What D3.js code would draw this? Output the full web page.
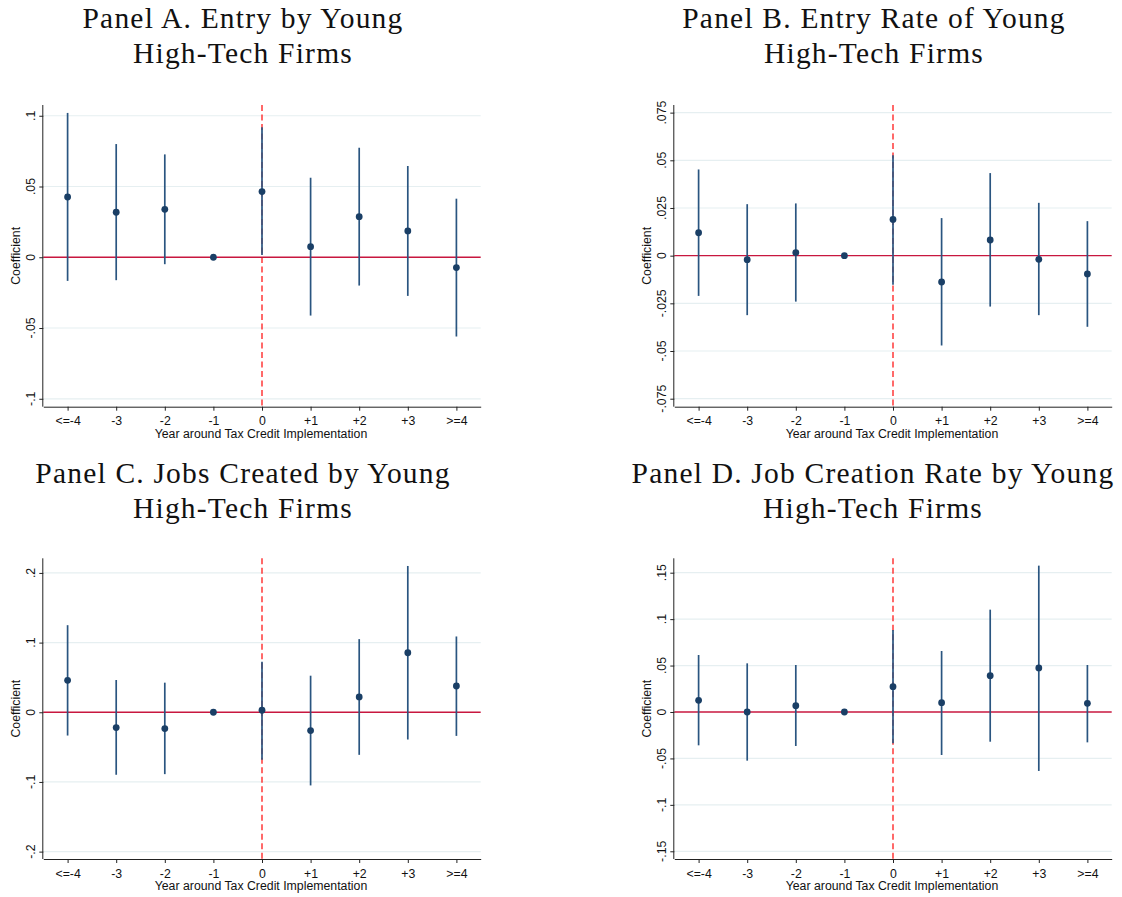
<!DOCTYPE html>
<html>
<head>
<meta charset="utf-8">
<script src="https://cdn.jsdelivr.net/npm/d3@7"></script>
<style>
  html, body { margin: 0; padding: 0; background: #ffffff; }
  svg { display: block; }
  .tick-label, .axis-title { font-family: "Liberation Sans", Arial, sans-serif; font-size: 12.3px; fill: #111; }
  .panel-title { font-family: "Liberation Serif", "Times New Roman", serif; font-size: 29.5px; fill: #111; letter-spacing: 1.2px; }
</style>
</head>
<body>
<svg id="chart" width="1122" height="897"></svg>
<script>
// Event-study categories (years around tax credit implementation)
const categories = ["<=-4", "-3", "-2", "-1", "0", "+1", "+2", "+3", ">=4"];

// Panel A: entry by young high-tech firms
const entryCoef = [0.0426, 0.0318, 0.0339, 0, 0.0464, 0.0075, 0.0287, 0.0186, -0.0073];
const entryLo   = [-0.0167, -0.0162, -0.0049, null, 0.0016, -0.0412, -0.0200, -0.0273, -0.0560];
const entryHi   = [0.1020, 0.0800, 0.0727, null, 0.0918, 0.0562, 0.0774, 0.0645, 0.0414];
const entryTicks = [-0.1, -0.05, 0, 0.05, 0.1];

// Panel B: entry rate of young high-tech firms
const entryRateCoef = [0.0120, -0.0021, 0.0016, 0, 0.0190, -0.0138, 0.0082, -0.0019, -0.0096];
const entryRateLo   = [-0.0211, -0.0312, -0.0241, null, -0.0153, -0.0471, -0.0267, -0.0312, -0.0373];
const entryRateHi   = [0.0452, 0.0270, 0.0274, null, 0.0527, 0.0197, 0.0433, 0.0277, 0.0181];
const entryRateTicks = [-0.075, -0.05, -0.025, 0, 0.025, 0.05, 0.075];

// Panel C: jobs created by young high-tech firms
const jobsCoef = [0.0458, -0.0220, -0.0234, 0, 0.0029, -0.0262, 0.0220, 0.0854, 0.0377];
const jobsLo   = [-0.0334, -0.0897, -0.0888, null, -0.0683, -0.1050, -0.0611, -0.0391, -0.0339];
const jobsHi   = [0.1250, 0.0463, 0.0425, null, 0.0725, 0.0525, 0.1050, 0.2100, 0.1088];
const jobsTicks = [-0.2, -0.1, 0, 0.1, 0.2];

// Panel D: job creation rate by young high-tech firms
const jobRateCoef = [0.0126, 0.0000, 0.0068, 0, 0.0273, 0.0100, 0.0391, 0.0474, 0.0093];
const jobRateLo   = [-0.0359, -0.0524, -0.0366, null, -0.0337, -0.0463, -0.0320, -0.0635, -0.0327];
const jobRateHi   = [0.0614, 0.0524, 0.0506, null, 0.0883, 0.0657, 0.1102, 0.1576, 0.0506];
const jobRateTicks = [-0.15, -0.1, -0.05, 0, 0.05, 0.1, 0.15];

const panelTitles = [
  ["Panel A. Entry by Young", "High-Tech Firms"],
  ["Panel B. Entry Rate of Young", "High-Tech Firms"],
  ["Panel C. Jobs Created by Young", "High-Tech Firms"],
  ["Panel D. Job Creation Rate by Young", "High-Tech Firms"]
];
const xTitle = "Year around Tax Credit Implementation";
const yTitle = "Coefficient";

// Layout of the four plot regions
const panels = [
  { title: panelTitles[0], coef: entryCoef, lo: entryLo, hi: entryHi, ticks: entryTicks,
    domain: [-0.1056, 0.1076], left: 43.3, top: 105, width: 437.4, height: 301.7, titleX: 243, titleY: 28.3 },
  { title: panelTitles[1], coef: entryRateCoef, lo: entryRateLo, hi: entryRateHi, ticks: entryRateTicks,
    domain: [-0.0792, 0.0790], left: 674.3, top: 105, width: 437.4, height: 301.7, titleX: 874, titleY: 28.3 },
  { title: panelTitles[2], coef: jobsCoef, lo: jobsLo, hi: jobsHi, ticks: jobsTicks,
    domain: [-0.2106, 0.2210], left: 43.3, top: 558.3, width: 437.4, height: 300.7, titleX: 243, titleY: 483.3 },
  { title: panelTitles[3], coef: jobRateCoef, lo: jobRateLo, hi: jobRateHi, ticks: jobRateTicks,
    domain: [-0.1583, 0.1655], left: 674.3, top: 558.3, width: 437.4, height: 300.7, titleX: 873, titleY: 483.3 }
];

// Stata-style tick labels: no leading zero (".05", "-.1")
const fmtTick = v => {
  if (Math.abs(v) < 1e-12) return "0";
  let s = String(+v.toFixed(4));
  return s.replace(/^(-?)0\./, "$1.");
};

const svg = d3.select("#chart");

panels.forEach(p => {
  const g = svg.append("g").attr("transform", `translate(${p.left},${p.top})`);
  const x = d3.scalePoint().domain(categories).range([0, p.width]).padding(0.5);
  const y = d3.scaleLinear().domain(p.domain).range([p.height, 0]);
  const rows = categories.map((c, i) => ({ cat: c, coef: p.coef[i], lo: p.lo[i], hi: p.hi[i] }));

  // horizontal grid lines at the y ticks
  g.append("g").selectAll("line").data(p.ticks.filter(t => t !== 0)).join("line")
    .attr("x1", 0).attr("x2", p.width)
    .attr("y1", d => y(d)).attr("y2", d => y(d))
    .attr("stroke", "#e6eff1").attr("stroke-width", 1.2);

  // dashed reference line at the implementation year
  g.append("line")
    .attr("x1", x("0")).attr("x2", x("0"))
    .attr("y1", 0).attr("y2", p.height)
    .attr("stroke", "#ff1a1a").attr("stroke-width", 1.3)
    .attr("stroke-dasharray", "6,3.5");

  // zero line
  g.append("line")
    .attr("x1", 0).attr("x2", p.width)
    .attr("y1", y(0)).attr("y2", y(0))
    .attr("stroke", "#c8173f").attr("stroke-width", 1.4);

  // confidence intervals
  g.append("g").selectAll("line").data(rows.filter(r => r.lo !== null)).join("line")
    .attr("x1", d => x(d.cat)).attr("x2", d => x(d.cat))
    .attr("y1", d => y(d.lo)).attr("y2", d => y(d.hi))
    .attr("stroke", "#2a5580").attr("stroke-width", 1.7);

  // point estimates
  g.append("g").selectAll("circle").data(rows).join("circle")
    .attr("cx", d => x(d.cat)).attr("cy", d => y(d.coef))
    .attr("r", 3.4).attr("fill", "#1a3f66");

  // y axis
  const yAxis = g.append("g").call(d3.axisLeft(y).tickValues(p.ticks).tickSize(4).tickFormat(""));
  yAxis.select(".domain").attr("d", `M-0.5,0V${p.height}`).attr("stroke", "#222");
  yAxis.selectAll(".tick line").attr("stroke", "#222");
  g.append("g").selectAll("text").data(p.ticks).join("text")
    .attr("class", "tick-label")
    .attr("transform", d => `translate(${-13},${y(d)}) rotate(-90)`)
    .attr("text-anchor", "middle")
    .attr("dy", "0.35em")
    .text(fmtTick);

  // x axis
  const xAxis = g.append("g").attr("transform", `translate(0,${p.height})`)
    .call(d3.axisBottom(x).tickSize(4).tickSizeOuter(0));
  xAxis.select(".domain").attr("stroke", "#222");
  xAxis.selectAll(".tick line").attr("stroke", "#222");
  xAxis.selectAll(".tick text")
    .attr("class", "tick-label")
    .attr("font-family", null).attr("font-size", null)
    .attr("y", 10).attr("dy", "0.71em");

  // axis titles
  g.append("text").attr("class", "axis-title")
    .attr("x", p.width / 2 - 1).attr("y", p.height + 31.5)
    .attr("text-anchor", "middle").text(xTitle);
  g.append("text").attr("class", "axis-title")
    .attr("transform", `translate(${-27.5},${p.height / 2}) rotate(-90)`)
    .attr("text-anchor", "middle").attr("dy", "0.35em")
    .text(yTitle);

  // panel title (two lines)
  const t = svg.append("text").attr("class", "panel-title").attr("text-anchor", "middle");
  p.title.forEach((line, i) => {
    t.append("tspan").attr("x", p.titleX).attr("y", p.titleY + i * 35).text(line);
  });
});
</script>
</body>
</html>
